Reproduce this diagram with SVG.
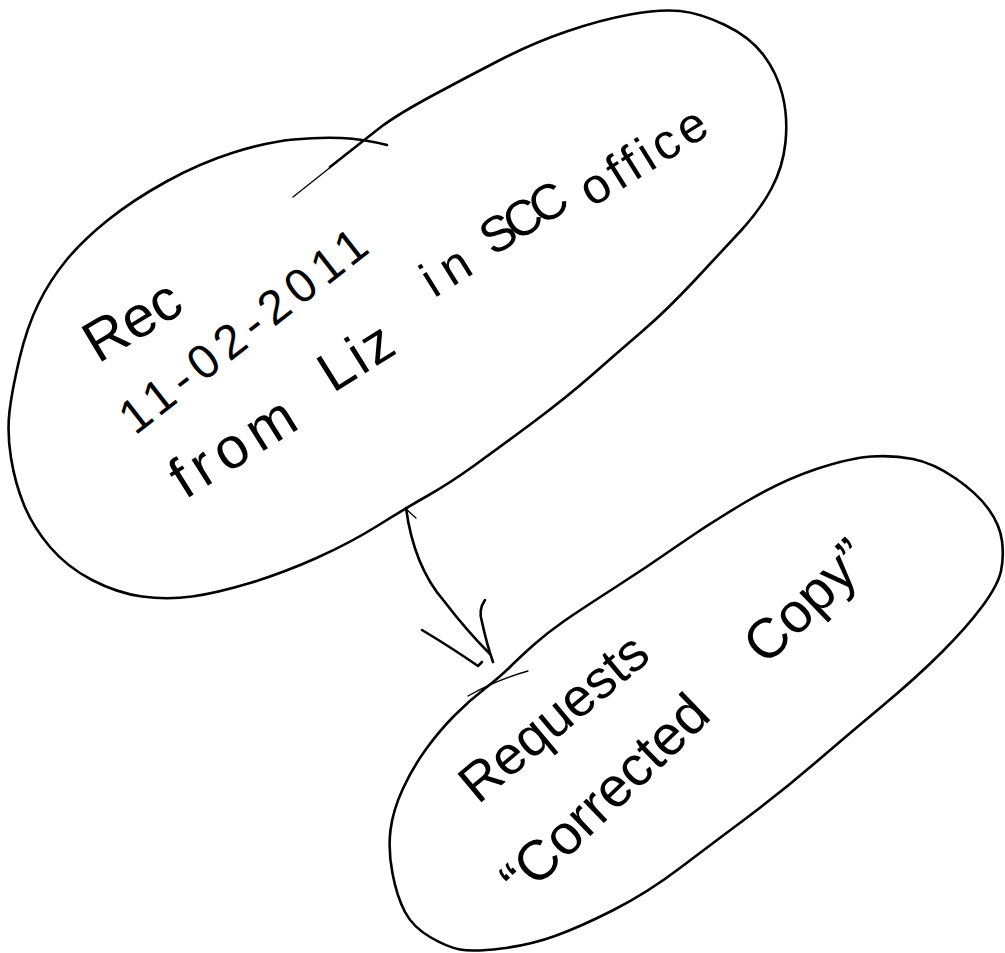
<svg xmlns="http://www.w3.org/2000/svg" width="1005" height="953" viewBox="0 0 1005 953">
<style>
.ink{fill:none;stroke:#000;stroke-width:2.6;stroke-linecap:round;stroke-linejoin:round}
.thin{fill:none;stroke:#000;stroke-width:1.3;stroke-linecap:round}
.hand{font-family:"Liberation Sans","Open Sans",sans-serif;fill:#000}
</style>
<rect width="1005" height="953" fill="#fff"/>
<g id="node-received">
<path class="ink" d="M387 145 Q363 139 341.5 138 Q320 137 293.5 139.5 Q267 142 233.5 152.5 Q200 163 166.5 181.5 Q133 200 108 220 Q83 240 66.5 260 Q50 280 38.5 303.5 Q27 327 19.5 358.5 Q12 390 9.5 411.5 Q7 433 11 458 Q15 483 24 505 Q33 527 50 547 Q67 567 92 580 Q117 593 142 596.5 Q167 600 192 596.5 Q217 593 250 583 Q283 573 316.5 558 Q350 543 378 525.5 Q406 508 428 495.5 Q450 483 475 465 Q500 447 533.5 422 Q567 397 592 375 Q617 353 642 331.5 Q667 310 695 280 Q723 250 741.5 230 Q760 210 771.5 188.5 Q783 167 785.5 142 Q788 117 782.5 95 Q777 73 763.5 55 Q750 37 725 25 Q700 13 680 11 Q660 9 630 14.5 Q600 20 566.5 31.5 Q533 43 500 60 Q467 77 433.5 95 Q400 113 381.5 126.5 L330 167"/>
<path class="thin" d="M332 166 L293 197"/>
<text class="hand" font-size="58" transform="translate(98,364) rotate(-31)">Rec</text>
<text class="hand" font-size="48" transform="translate(135,436) rotate(-38)" textLength="300" lengthAdjust="spacing">11-02-2011</text>
<text class="hand" font-size="50" transform="translate(185,500) rotate(-32)"><tspan x="0" y="0" font-size="58" letter-spacing="7">from</tspan><tspan x="182" y="-12" font-size="56" letter-spacing="3">Liz</tspan><tspan x="318" y="-39" letter-spacing="10">in</tspan><tspan x="390" y="-43" letter-spacing="-6">SCC</tspan><tspan x="500" y="-32" letter-spacing="4.5">office</tspan></text>
</g>
<g id="node-request">
<path class="ink" d="M485 688.5 Q500 677 510 667 Q520 657 533.5 645 Q547 633 563.5 621.5 Q580 610 613.5 588.5 Q647 567 678.5 545 Q710 523 746.5 501.5 Q783 480 816.5 469 Q850 458 871.5 456.5 Q893 455 913 459 Q933 463 955 478 Q977 493 988.5 509 Q1000 525 1002 541 Q1004 557 1001 571 Q998 585 982.5 606 Q967 627 942 652 Q917 677 883.5 705 Q850 733 815 763 Q780 793 746.5 818 Q713 843 680 868 Q647 893 613.5 910 Q580 927 555 936 Q530 945 501.5 948.5 Q473 952 460 949.5 Q447 947 430 937 Q413 927 405 912 Q397 897 392.5 873.5 Q388 850 390.5 830 Q393 810 403 788.5 Q413 767 426.5 748.5 Q440 730 455 715 Q470 700 485 688.5 Z"/>
<path class="thin" d="M468 696 Q496 680 528 671"/>
<text class="hand" font-size="54" transform="translate(478,805) rotate(-40)">Requests</text>
<text class="hand" font-size="56" transform="translate(550,875) rotate(-44)"><tspan x="-38" y="0">“Corrected</tspan><tspan x="300" y="0">Copy”</tspan></text>
</g>
<g id="connectors">
<path class="ink" d="M406 508 C411 545 424 578 444 601 C460 622 476 640 490 654"/>
<path class="ink" d="M422 630 Q452 648 478 666 L482 662"/>
<path class="ink" d="M485 600 Q478 610 482 622 Q487 645 493 662"/>
<path class="thin" d="M406 509 L416 518"/>
</g>
</svg>
